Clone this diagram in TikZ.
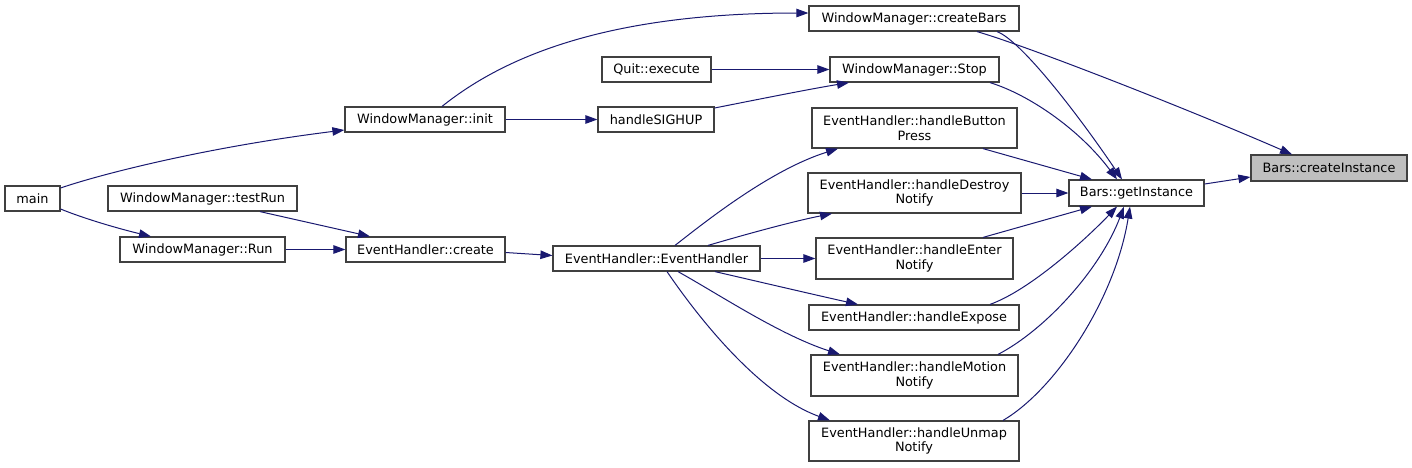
\documentclass[tikz,border=0pt]{standalone}
\usepackage{fontspec}
\setmainfont{DejaVu Sans}
\usetikzlibrary{arrows.meta}
\definecolor{edgec}{HTML}{191970}
\definecolor{boxc}{HTML}{404040}
\definecolor{hl}{HTML}{BFBFBF}
\tikzset{
  fn/.style={draw=boxc, line width=1.2pt, rectangle, inner sep=0pt, align=center,
    font=\fontsize{12.85}{14.7}\selectfont},
  e/.style={draw=edgec, line width=1pt, -{Triangle[length=12pt,width=8.5pt]}}
}
\begin{document}
\begin{tikzpicture}[x=1pt,y=-1pt]
\useasboundingbox (0,0) rectangle (1412,467);
% nodes
\node[fn, minimum width=55, minimum height=25] (main) at (32.5,198.5) {main};
\node[fn, minimum width=189, minimum height=25] (testRun) at (202.5,198.5) {WindowManager::testRun};
\node[fn, minimum width=165, minimum height=25] (Run) at (202.5,249.5) {WindowManager::Run};
\node[fn, minimum width=160, minimum height=25] (init) at (425,119.5) {WindowManager::init};
\node[fn, minimum width=159, minimum height=25] (create) at (425.5,249.5) {EventHandler::create};
\node[fn, minimum width=210, minimum height=25] (createBars) at (914,18.5) {WindowManager::createBars};
\node[fn, minimum width=109, minimum height=25] (Quit) at (656.5,69.5) {Quit::execute};
\node[fn, minimum width=169, minimum height=25] (Stop) at (914.5,69.5) {WindowManager::Stop};
\node[fn, minimum width=116, minimum height=25] (SIGHUP) at (656,119.5) {handleSIGHUP};
\node[fn, minimum width=205, minimum height=40] (BP) at (914.5,128) {EventHandler::handleButton\\Press};
\node[fn, minimum width=213, minimum height=40] (DN) at (914.5,193) {EventHandler::handleDestroy\\Notify};
\node[fn, minimum width=207, minimum height=25] (EH) at (656.5,258.5) {EventHandler::EventHandler};
\node[fn, minimum width=197, minimum height=41] (EN) at (914.5,258.5) {EventHandler::handleEnter\\Notify};
\node[fn, minimum width=210, minimum height=25] (EX) at (914,317.5) {EventHandler::handleExpose};
\node[fn, minimum width=207, minimum height=41] (MN) at (914.5,375.5) {EventHandler::handleMotion\\Notify};
\node[fn, minimum width=210, minimum height=40] (UN) at (914,441) {EventHandler::handleUnmap\\Notify};
\node[fn, fill=hl, minimum width=156, minimum height=26] (CI) at (1329,168) {Bars::createInstance};
\node[fn, minimum width=135, minimum height=26] (GI) at (1136.5,193) {Bars::getInstance};
% edges
\draw[e] (main.east |- 0,188) .. controls (95,176) and (200,148) .. (init.west |- 0,130);
\draw[e] (main.east |- 0,209) .. controls (85,219) and (120,229) .. (Run.north -| 151,0);
\draw[e] (testRun.south -| 260,0) -- (create.north -| 370,0);
\draw[e] (Run.east) -- (create.west);
\draw[e] (create.east |- 0,252.5) -- (EH.west |- 0,255.5);
\draw[e] (init.north -| 442,0) .. controls (500,60) and (600,13) .. (createBars.west |- 0,13);
\draw[e] (init.east) -- (SIGHUP.west);
\draw[e] (Quit.east) -- (Stop.west);
\draw[e] (SIGHUP.east |- 0,108) .. controls (760,99) and (810,89) .. (Stop.south -| 849,0);
\draw[e] (EH.north -| 675,0) .. controls (705,222) and (770,170) .. (BP.south -| 838,0);
\draw[e] (EH.north -| 708,0) .. controls (740,236) and (790,222) .. (DN.south -| 832,0);
\draw[e] (EH.east) -- (EN.west);
\draw[e] (EH.south -| 715,0) .. controls (760,282) and (820,296) .. (EX.north -| 858,0);
\draw[e] (EH.south -| 678,0) .. controls (720,295) and (780,335) .. (MN.north -| 840,0);
\draw[e] (EH.south -| 667,0) .. controls (700,320) and (760,395) .. (UN.north -| 830,0);
\draw[e] (createBars.south -| 977,0) .. controls (1030,47) and (1190,110) .. (CI.north -| 1292,0);
\draw[e] (createBars.south -| 997,0) .. controls (1020,40) and (1075,110) .. (GI.north -| 1122,0);
\draw[e] (Stop.south -| 990,0) .. controls (1030,95) and (1080,130) .. (GI.north -| 1117,0);
\draw[e] (BP.south -| 983,0) -- (GI.north -| 1092,0);
\draw[e] (DN.east) -- (GI.west);
\draw[e] (EN.north -| 983,0) -- (GI.south -| 1092,0);
\draw[e] (EX.north -| 990,0) .. controls (1030,290) and (1085,240) .. (GI.south -| 1117,0);
\draw[e] (MN.north -| 998,0) .. controls (1045,330) and (1100,270) .. (GI.south -| 1124,0);
\draw[e] (UN.north -| 1003,0) .. controls (1055,390) and (1115,300) .. (GI.south -| 1130,0);
\draw[e] (GI.east |- 0,184) -- (CI.west |- 0,177);
\end{tikzpicture}
\end{document}
